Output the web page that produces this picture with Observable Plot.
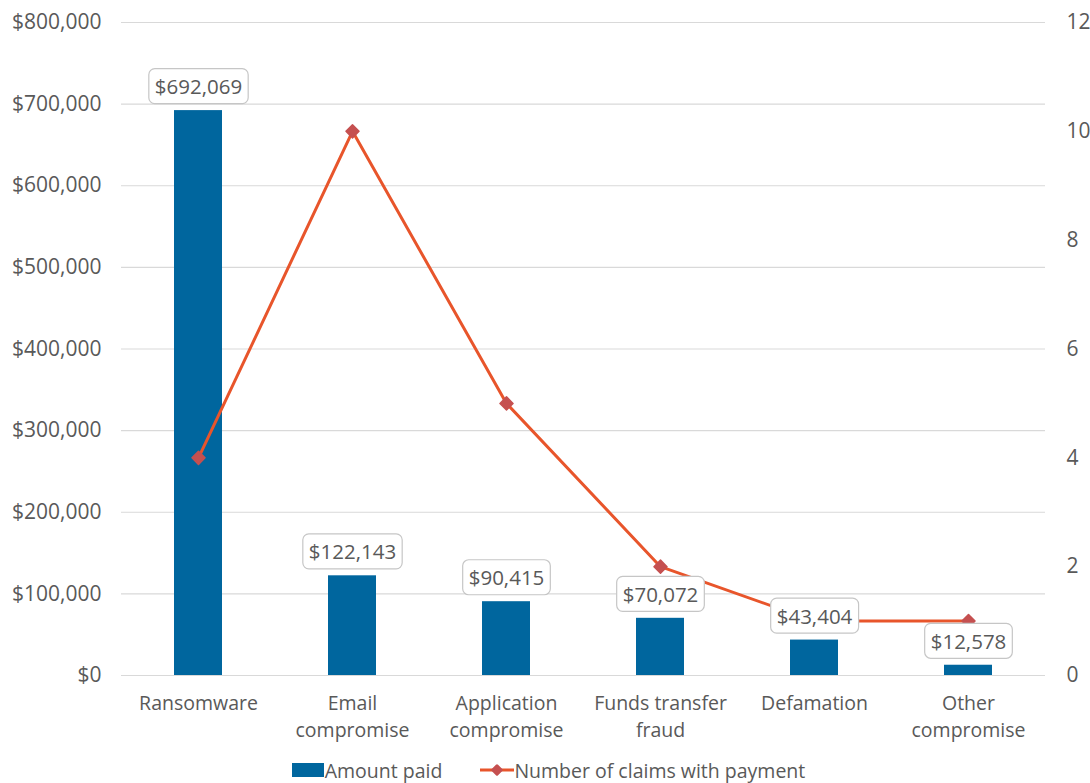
<!DOCTYPE html>
<html>
<head>
<meta charset="utf-8">
<script src="https://cdn.jsdelivr.net/npm/d3@7"></script>
<script src="https://cdn.jsdelivr.net/npm/@observablehq/plot@0.6"></script>
<style>
  body { margin: 0; background: #fff; font-family: "Open Sans", sans-serif; }
  #legend { display: flex; justify-content: center; align-items: center; gap: 38px;
            font-size: 19.5px; color: #595959; height: 26px; margin-left: 6px; }
  #legend .item { display: flex; align-items: center; }
  #legend svg { display: block; }
</style>
</head>
<body>
<div id="chart"></div>
<div id="legend">
  <div class="item"><svg width="34" height="16"><rect x="1" y="1" width="32" height="14" fill="#00669E"></rect></svg>Amount paid</div>
  <div class="item"><svg width="34" height="16"><line x1="0" y1="8" x2="34" y2="8" stroke="#E8552B" stroke-width="3"></line><rect x="12.5" y="3.5" width="9" height="9" rx="1.5" fill="#C55050" transform="rotate(45 17 8)"></rect></svg>Number of claims with payment</div>
</div>
<script>
// Claim categories (line breaks are where the axis labels wrap)
const categories = ["Ransomware", "Email\ncompromise", "Application\ncompromise", "Funds transfer\nfraud", "Defamation", "Other\ncompromise"];
// Total amount paid per category (USD)
const amountPaid = [692069, 122143, 90415, 70072, 43404, 12578];
// Number of claims with a payment per category
const claimsWithPayment = [4, 10, 5, 2, 1, 1];
// Axis ticks
const amountTicks = [0, 100000, 200000, 300000, 400000, 500000, 600000, 700000, 800000];
const claimTicks = [0, 2, 4, 6, 8, 10, 12];

const amountMax = 800000;
const claimMax = 12;
const toAmount = c => c * amountMax / claimMax; // map claim counts onto the left scale

const data = categories.map((c, i) => ({category: c, amount: amountPaid[i], claims: claimsWithPayment[i]}));
const money = d3.format("$,");

const barColor = "#00669E";
const lineColor = "#E8552B";
const markerColor = "#C55050";
const textColor = "#595959";

const chart = Plot.plot({
  width: 1090,
  height: 757,
  marginTop: 22,
  marginBottom: 82,
  marginLeft: 121,
  marginRight: 45,
  style: {fontFamily: "Open Sans, sans-serif", fontSize: "19.5px", color: textColor, background: "#fff"},
  x: {domain: categories, paddingInner: 0.69, paddingOuter: 0.345, label: null},
  y: {domain: [0, amountMax], label: null},
  marks: [
    Plot.gridY(amountTicks, {stroke: "#d9d9d9", strokeOpacity: 1, strokeWidth: 1.2}),
    Plot.axisY(amountTicks, {anchor: "left", tickSize: 0, tickPadding: 20, tickFormat: money, fontSize: 21, fill: textColor, label: null}),
    Plot.axisY(claimTicks.map(toAmount), {anchor: "right", tickSize: 0, tickPadding: 21, tickFormat: d => String(Math.round(d * claimMax / amountMax)), fontSize: 21, fill: textColor, label: null}),
    Plot.axisX({tickSize: 0, tickPadding: 15, fontSize: 19.5, fill: textColor, lineHeight: 1.38, label: null}),
    Plot.barY(data, {x: "category", y: "amount", fill: barColor}),
    Plot.line(data, {x: "category", y: d => toAmount(d.claims), stroke: lineColor, strokeWidth: 3}),
    Plot.dot(data, {x: "category", y: d => toAmount(d.claims), symbol: "square", rotate: 45, r: 5.2, fill: markerColor, stroke: markerColor, strokeWidth: 1.5, strokeLinejoin: "round"}),
    Plot.text(data, {x: "category", y: "amount", text: d => money(d.amount), dy: -23, fontSize: 20.5, fill: textColor, textAnchor: "middle", lineAnchor: "middle"})
  ]
});

document.getElementById("chart").append(chart);

// Framed boxes behind the value labels
const labelSet = new Set(amountPaid.map(money));
d3.select(chart).selectAll("text").filter(function() { return labelSet.has(this.textContent); }).each(function() {
  const b = this.getBBox();
  const cy = b.y + b.height / 2;
  const rect = document.createElementNS("http://www.w3.org/2000/svg", "rect");
  rect.setAttribute("x", b.x - 6);
  rect.setAttribute("y", cy - 17.5);
  rect.setAttribute("width", b.width + 12);
  rect.setAttribute("height", 35);
  rect.setAttribute("rx", 6);
  rect.setAttribute("fill", "#fff");
  rect.setAttribute("stroke", "#c6c6c6");
  rect.setAttribute("stroke-width", 1.2);
  const t = this.getAttribute("transform");
  if (t) rect.setAttribute("transform", t);
  this.parentNode.insertBefore(rect, this);
});
</script>
</body>
</html>
